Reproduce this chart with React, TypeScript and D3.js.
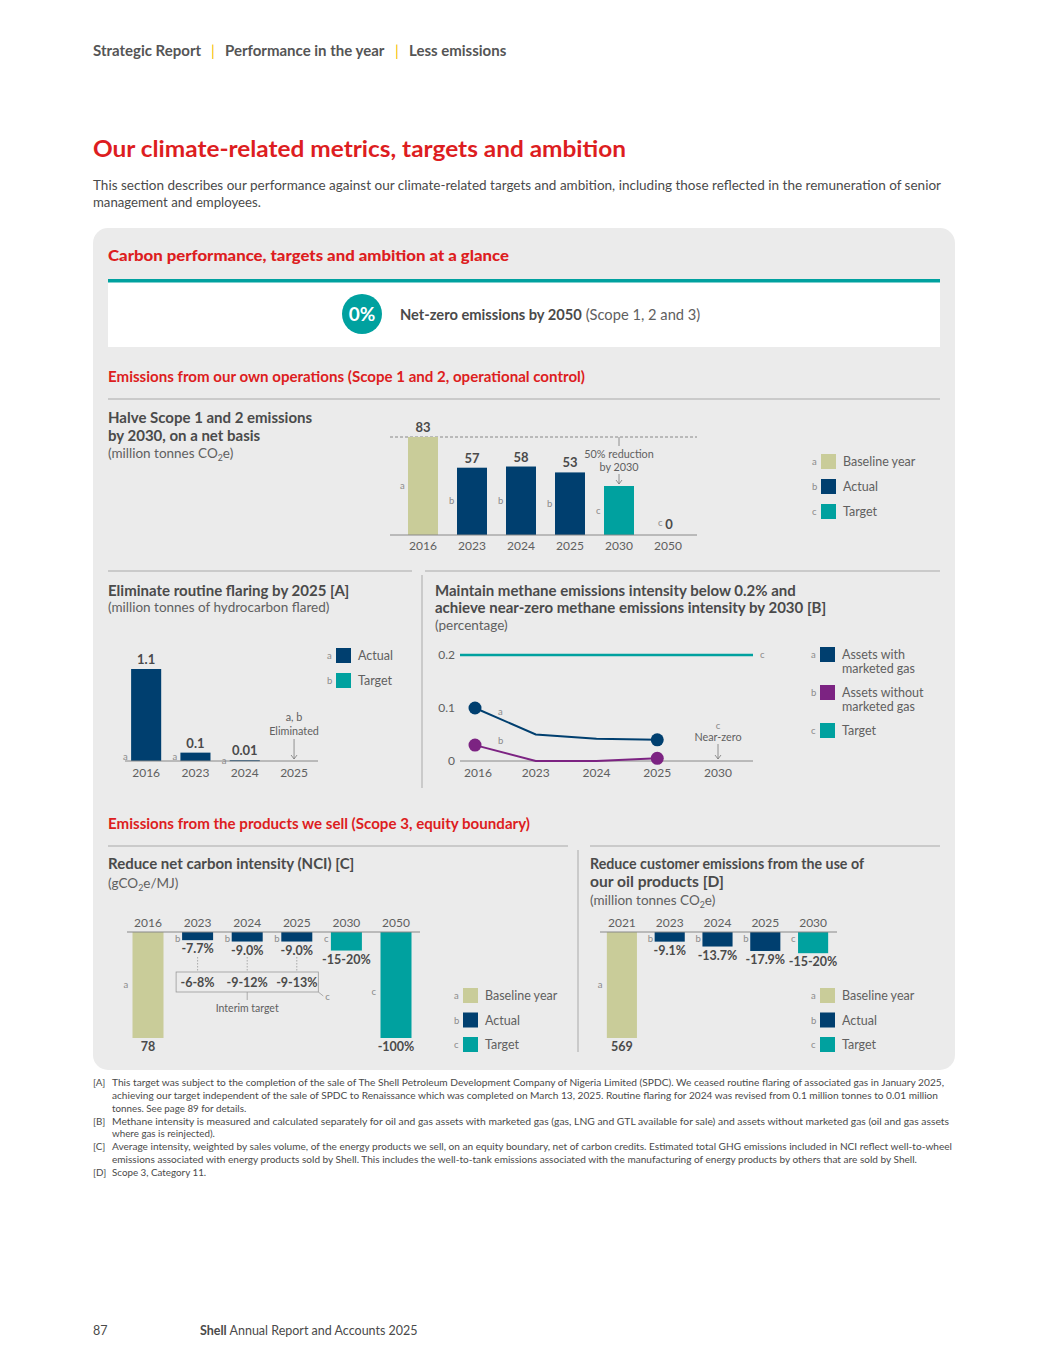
import * as d3 from "d3";
import * as React from "react";

const FONT = "Lato, 'Noto Sans', 'DejaVu Sans', sans-serif";
const RED = "#dd1d21";
const TXT = "#4a4a4a";
const SOFT = "#606060";
const LETTER = "#8a8a8a";
const BASE = "#c9cc99";
const ACTUAL = "#003f6f";
const TARGET = "#00a19f";
const PURPLE = "#7c2382";
const RULE = "#a9a9a9";
const PANEL = "#ebebeb";

const kindColor: Record<string, string> = { a: BASE, b: ACTUAL, c: TARGET };

// Scope 1 and 2
const scope12Years = ["2016", "2023", "2024", "2025", "2030", "2050"];
const scope12Values = [83, 57, 58, 53, 41.5, 0];
const scope12Kinds = ["a", "b", "b", "b", "c", "c"];
const scope12Labels = ["83", "57", "58", "53", "", "0"];

// routine flaring
const flaringYears = ["2016", "2023", "2024", "2025"];
const flaringValues = [1.1, 0.1, 0.01, 0];
const flaringLabels = ["1.1", "0.1", "0.01", ""];

// methane intensity
const methaneYears = ["2016", "2023", "2024", "2025", "2030"];
const methaneMarketed = [0.1, 0.05, 0.042, 0.04];
const methaneNotMarketed = [0.03, 0, 0, 0.005];
const methaneTarget = 0.2;
const methaneTicks = [0, 0.1, 0.2];

// net carbon intensity (bar depth in % of baseline)
const nciYears = ["2016", "2023", "2024", "2025", "2030", "2050"];
const nciChange = [100, 7.7, 9.0, 9.0, 17.5, 100];
const nciKinds = ["a", "b", "b", "b", "c", "c"];
const nciLabels = ["78", "-7.7%", "-9.0%", "-9.0%", "-15-20%", "-100%"];
const nciInterimYears = ["2023", "2024", "2025"];
const nciInterimLabels = ["-6-8%", "-9-12%", "-9-13%"];

// customer emissions
const customerYears = ["2021", "2023", "2024", "2025", "2030"];
const customerChange = [100, 9.1, 13.7, 17.9, 20];
const customerKinds = ["a", "b", "b", "b", "c"];
const customerLabels = ["569", "-9.1%", "-13.7%", "-17.9%", "-15-20%"];

const legendBasic = [
  { letter: "a", color: BASE, label: ["Baseline year"] },
  { letter: "b", color: ACTUAL, label: ["Actual"] },
  { letter: "c", color: TARGET, label: ["Target"] },
];

const footnotes: Array<{ tag: string; lines: string[]; widths: Array<number | null> }> = [
  {
    tag: "[A]",
    lines: [
      "This target was subject to the completion of the sale of The Shell Petroleum Development Company of Nigeria Limited (SPDC). We ceased routine flaring of associated gas in January 2025,",
      "achieving our target independent of the sale of SPDC to Renaissance which was completed on March 13, 2025. Routine flaring for 2024 was revised from 0.1 million tonnes to 0.01 million",
      "tonnes. See page 89 for details.",
    ],
    widths: [832, 826, null],
  },
  {
    tag: "[B]",
    lines: [
      "Methane intensity is measured and calculated separately for oil and gas assets with marketed gas (gas, LNG and GTL available for sale) and assets without marketed gas (oil and gas assets",
      "where gas is reinjected).",
    ],
    widths: [837, null],
  },
  {
    tag: "[C]",
    lines: [
      "Average intensity, weighted by sales volume, of the energy products we sell, on an equity boundary, net of carbon credits. Estimated total GHG emissions included in NCI reflect well-to-wheel",
      "emissions associated with energy products sold by Shell. This includes the well-to-tank emissions associated with the manufacturing of energy products by others that are sold by Shell.",
    ],
    widths: [840, 805],
  },
  { tag: "[D]", lines: ["Scope 3, Category 11."], widths: [null] },
];

function Arrow({ x, y1, y2 }: { x: number; y1: number; y2: number }) {
  return (
    <g stroke="#777" strokeWidth={0.8} fill="none">
      <line x1={x} x2={x} y1={y1} y2={y2} />
      <path d={`M${x - 3},${y2 - 4}L${x},${y2}L${x + 3},${y2 - 4}`} />
    </g>
  );
}

function Legend({ x, items }: { x: number; items: Array<{ letter: string; color: string; label: string[]; y: number }> }) {
  return (
    <g>
      {items.map((it) => (
        <g key={it.letter}>
          <text x={x} y={it.y + 11} fontSize={9.5} fill={LETTER}>{it.letter}</text>
          <rect x={x + 9} y={it.y} width={15} height={15} fill={it.color} />
          {it.label.map((l, i) => (
            <text key={i} x={x + 31} y={it.y + 12 + i * 14} fontSize={12.5} fill={SOFT}>{l}</text>
          ))}
        </g>
      ))}
    </g>
  );
}

function CO2e({ x, y, before, after, size }: { x: number; y: number; before: string; after: string; size: number }) {
  return (
    <text x={x} y={y} fontSize={size} fill={SOFT}>
      {before}CO<tspan fontSize={size * 0.65} dy={3}>2</tspan><tspan dy={-3}>e{after}</tspan>
    </text>
  );
}

function Title({ x, y, width, children }: { x: number; y: number; width?: number; children: React.ReactNode }) {
  const fit = width ? { textLength: width, lengthAdjust: "spacingAndGlyphs" } : {};
  return <text x={x} y={y} fontSize={15} fontWeight={700} fill={TXT} {...fit}>{children}</text>;
}

export default function App() {
  // Scope 1 & 2 chart
  const x1 = d3.scaleBand<string>().domain(scope12Years).range([398.5, 692.5]).paddingInner(0.388).paddingOuter(0.194);
  const y1 = d3.scaleLinear().domain([0, 83]).range([535, 437]);

  // flaring chart
  const x2 = d3.scaleBand<string>().domain(flaringYears).range([121.5, 318.7]).paddingInner(0.39).paddingOuter(0.195);
  const y2 = d3.scaleLinear().domain([0, 1.1]).range([761, 669]);

  // methane chart
  const xm = d3.scalePoint<string>().domain(methaneYears).range([475, 718]);
  const ym = d3.scaleLinear().domain([0, 0.2]).range([761, 655]);
  const lineM = d3.line<number>().x((_, i) => xm(methaneYears[i])!).y((d) => ym(d));

  // scope 3 charts (downward bars from top axis)
  const depth = d3.scaleLinear().domain([0, 100]).range([0, 106]);
  const top3 = 932;
  const xn = d3.scaleBand<string>().domain(nciYears).range([123.2, 420.8]).paddingInner(0.375).paddingOuter(0.1875);
  const xc = d3.scaleBand<string>().domain(customerYears).range([598, 837]).paddingInner(0.37).paddingOuter(0.185);

  const downBars = (years: string[], values: number[], kinds: string[], labels: string[], x: d3.ScaleBand<string>) =>
    years.map((yr, i) => {
      const x0 = x(yr)!;
      const bw = x.bandwidth();
      const h = depth(values[i]);
      const big = values[i] >= 100;
      const letterY = big ? top3 + h / 2 + (i === 0 ? 3 : 10) : top3 + 10;
      return (
        <g key={yr}>
          <rect x={x0} y={top3} width={bw} height={h} fill={kindColor[kinds[i]]} />
          <text x={x0 - (big ? 9 : 7)} y={letterY} fontSize={9.5} fill={LETTER}>{kinds[i]}</text>
          <text x={x0 + bw / 2} y={top3 + h + 13} textAnchor="middle" fontSize={12.5} fontWeight={700} fill={TXT}>{labels[i]}</text>
          <text x={x0 + bw / 2} y={927} textAnchor="middle" fontSize={12} fill={SOFT}>{yr}</text>
        </g>
      );
    });

  const bx0 = xn(nciInterimYears[0])! - 6;
  const bx1 = xn(nciInterimYears[nciInterimYears.length - 1])! + xn.bandwidth() + 6;
  const midInterim = xn(nciInterimYears[1])! + xn.bandwidth() / 2;

  let fy = 1086;
  const footLines: React.ReactNode[] = [];
  footnotes.forEach((f) => {
    f.lines.forEach((l, i) => {
      const w = f.widths[i];
      footLines.push(
        <g key={f.tag + i}>
          {i === 0 && <text x={93} y={fy} fontSize={9.8} fill={TXT}>{f.tag}</text>}
          <text x={112} y={fy} fontSize={9.8} fill={TXT} {...(w ? { textLength: w, lengthAdjust: "spacingAndGlyphs" } : {})}>{l}</text>
        </g>
      );
      fy += 12.85;
    });
  });

  return (
    <svg width={1048} height={1365} fontFamily={FONT} style={{ position: "absolute", left: 0, top: 0, background: "#fff" }}>
      {/* header */}
      <g fontSize={15} fontWeight={700} fill="#555">
        <text x={93} y={56}>Strategic Report</text>
        <text x={211} y={56} fill="#f6bd00" fontWeight={400}>|</text>
        <text x={225} y={56}>Performance in the year</text>
        <text x={395} y={56} fill="#f6bd00" fontWeight={400}>|</text>
        <text x={409} y={56}>Less emissions</text>
      </g>
      <text x={93} y={157} fontSize={23.5} fontWeight={700} fill={RED} textLength={533} lengthAdjust="spacingAndGlyphs">
        Our climate-related metrics, targets and ambition
      </text>
      <text x={93} y={190} fontSize={13.2} fill={TXT} textLength={848} lengthAdjust="spacingAndGlyphs">
        This section describes our performance against our climate-related targets and ambition, including those reflected in the remuneration of senior
      </text>
      <text x={93} y={207} fontSize={13.2} fill={TXT}>management and employees.</text>

      {/* panel */}
      <rect x={93} y={228} width={862} height={842} rx={15} fill={PANEL} />
      <text x={108} y={261} fontSize={15} fontWeight={900} fill={RED} textLength={401} lengthAdjust="spacingAndGlyphs">
        Carbon performance, targets and ambition at a glance
      </text>
      <rect x={108} y={282} width={832} height={65} fill="#fff" />
      <rect x={108} y={279} width={832} height={3.5} fill={TARGET} />
      <circle cx={362} cy={314} r={20} fill={TARGET} />
      <text x={362} y={321} textAnchor="middle" fontSize={19} fontWeight={700} fill="#fff">0%</text>
      <text x={400} y={320} fontSize={14.7} fill={TXT}>
        <tspan fontWeight={700}>Net-zero emissions by 2050</tspan>
        <tspan fill={SOFT}> (Scope 1, 2 and 3)</tspan>
      </text>

      <text x={108} y={382} fontSize={15} fontWeight={700} fill={RED} textLength={477} lengthAdjust="spacingAndGlyphs">
        Emissions from our own operations (Scope 1 and 2, operational control)
      </text>
      <line x1={108} x2={940} y1={399} y2={399} stroke={RULE} />

      {/* scope 1 & 2 */}
      <Title x={108} y={423}>Halve Scope 1 and 2 emissions</Title>
      <Title x={108} y={441}>by 2030, on a net basis</Title>
      <CO2e x={108} y={458} before="(million tonnes " after=")" size={13.5} />
      <line x1={390} x2={697} y1={y1(83)} y2={y1(83)} stroke="#888" strokeDasharray="3,2" />
      {scope12Years.map((yr, i) => {
        const x0 = x1(yr)!;
        const bw = x1.bandwidth();
        const v = scope12Values[i];
        const isZero = v === 0;
        return (
          <g key={yr}>
            <rect x={x0} y={y1(v)} width={bw} height={y1(0) - y1(v)} fill={kindColor[scope12Kinds[i]]} />
            <text x={isZero ? x0 + 5 : x0 - 8} y={isZero ? y1(0) - 9 : (y1(v) + y1(0)) / 2 + 3} fontSize={9.5} fill={LETTER}>
              {scope12Kinds[i]}
            </text>
            {scope12Labels[i] && (
              <text x={x0 + bw / 2 + (isZero ? 1 : 0)} y={y1(v) - (isZero ? 6 : 5)} textAnchor="middle" fontSize={13} fontWeight={700} fill={TXT}>
                {scope12Labels[i]}
              </text>
            )}
            <text x={x0 + bw / 2} y={550} textAnchor="middle" fontSize={12} fill={SOFT}>{yr}</text>
          </g>
        );
      })}
      <line x1={390} x2={697} y1={535} y2={535} stroke="#888" />
      {(() => {
        const cx = x1("2030")! + x1.bandwidth() / 2;
        return (
          <g>
            <line x1={cx} x2={cx} y1={y1(83)} y2={y1(83) + 9} stroke="#777" strokeWidth={0.8} />
            <text x={cx} y={458} textAnchor="middle" fontSize={10.8} fill={SOFT}>50% reduction</text>
            <text x={cx} y={471} textAnchor="middle" fontSize={10.8} fill={SOFT}>by 2030</text>
            <Arrow x={cx} y1={474} y2={y1(41.5) - 2} />
          </g>
        );
      })()}
      <Legend x={812} items={legendBasic.map((d, i) => ({ ...d, y: 454 + i * 25 }))} />

      {/* dividers */}
      <line x1={108} x2={412} y1={571} y2={571} stroke={RULE} />
      <line x1={425} x2={940} y1={571} y2={571} stroke={RULE} />
      <line x1={422} x2={422} y1={575} y2={788} stroke={RULE} />

      {/* flaring */}
      <Title x={108} y={596}>Eliminate routine flaring by 2025 [A]</Title>
      <text x={108} y={612} fontSize={13.5} fill={SOFT}>(million tonnes of hydrocarbon flared)</text>
      {flaringYears.map((yr, i) => {
        const x0 = x2(yr)!;
        const bw = x2.bandwidth();
        const v = flaringValues[i];
        const cx = x0 + bw / 2;
        if (v === 0) {
          return (
            <g key={yr}>
              <text x={cx} y={721} textAnchor="middle" fontSize={10.8} fill={SOFT}>a, b</text>
              <text x={cx} y={735} textAnchor="middle" fontSize={10.8} fill={SOFT}>Eliminated</text>
              <Arrow x={cx} y1={739} y2={759} />
              <text x={cx} y={777} textAnchor="middle" fontSize={12} fill={SOFT}>{yr}</text>
            </g>
          );
        }
        return (
          <g key={yr}>
            <rect x={x0} y={y2(v)} width={bw} height={Math.max(1, y2(0) - y2(v))} fill={ACTUAL} />
            <text x={x0 - 8} y={Math.max((y2(v) + y2(0)) / 2 + 3, 760)} fontSize={9.5} fill={LETTER}>a</text>
            <text x={cx} y={y2(v) - 5} textAnchor="middle" fontSize={13} fontWeight={700} fill={TXT}>{flaringLabels[i]}</text>
            <text x={cx} y={777} textAnchor="middle" fontSize={12} fill={SOFT}>{yr}</text>
          </g>
        );
      })}
      <line x1={125} x2={318} y1={761} y2={761} stroke="#888" />
      <Legend
        x={327}
        items={[
          { letter: "a", color: ACTUAL, label: ["Actual"], y: 648 },
          { letter: "b", color: TARGET, label: ["Target"], y: 673 },
        ]}
      />

      {/* methane */}
      <Title x={435} y={596}>Maintain methane emissions intensity below 0.2% and</Title>
      <Title x={435} y={613}>achieve near-zero methane emissions intensity by 2030 [B]</Title>
      <text x={435} y={630} fontSize={13.5} fill={SOFT}>(percentage)</text>
      {methaneTicks.map((t) => (
        <text key={t} x={455} y={ym(t) + 4} textAnchor="end" fontSize={12} fill={SOFT}>{d3.format("")(t)}</text>
      ))}
      <line x1={460} x2={753} y1={ym(0)} y2={ym(0)} stroke="#888" />
      <line x1={460} x2={753} y1={ym(methaneTarget)} y2={ym(methaneTarget)} stroke={TARGET} strokeWidth={2.5} />
      <text x={760} y={ym(methaneTarget) + 3} fontSize={9.5} fill={LETTER}>c</text>
      <path d={lineM(methaneMarketed)!} fill="none" stroke={ACTUAL} strokeWidth={2} />
      <path d={lineM(methaneNotMarketed)!} fill="none" stroke={PURPLE} strokeWidth={2} />
      {[0, 3].map((i) => (
        <g key={i}>
          <circle cx={xm(methaneYears[i])!} cy={ym(methaneMarketed[i])} r={6.5} fill={ACTUAL} />
          <circle cx={xm(methaneYears[i])!} cy={ym(methaneNotMarketed[i])} r={6.5} fill={PURPLE} />
        </g>
      ))}
      <text x={498} y={715} fontSize={9.5} fill={LETTER}>a</text>
      <text x={498} y={744} fontSize={9.5} fill={LETTER}>b</text>
      {(() => {
        const cx = xm("2030")!;
        return (
          <g>
            <text x={cx} y={729} textAnchor="middle" fontSize={9.5} fill={LETTER}>c</text>
            <text x={cx} y={741} textAnchor="middle" fontSize={10.8} fill={SOFT}>Near-zero</text>
            <Arrow x={cx} y1={744} y2={759} />
          </g>
        );
      })()}
      {methaneYears.map((yr) => (
        <text key={yr} x={xm(yr)! + (yr === "2016" ? 3 : 0)} y={777} textAnchor="middle" fontSize={12} fill={SOFT}>{yr}</text>
      ))}
      <Legend
        x={811}
        items={[
          { letter: "a", color: ACTUAL, label: ["Assets with", "marketed gas"], y: 647 },
          { letter: "b", color: PURPLE, label: ["Assets without", "marketed gas"], y: 685 },
          { letter: "c", color: TARGET, label: ["Target"], y: 723 },
        ]}
      />

      {/* scope 3 */}
      <text x={108} y={829} fontSize={15} fontWeight={700} fill={RED} textLength={422} lengthAdjust="spacingAndGlyphs">
        Emissions from the products we sell (Scope 3, equity boundary)
      </text>
      <line x1={108} x2={568} y1={846} y2={846} stroke={RULE} />
      <line x1={590} x2={940} y1={846} y2={846} stroke={RULE} />
      <line x1={578} x2={578} y1={850} y2={1052} stroke={RULE} />

      {/* NCI */}
      <Title x={108} y={869}>Reduce net carbon intensity (NCI) [C]</Title>
      <CO2e x={108} y={888} before="(g" after="/MJ)" size={13.5} />
      {downBars(nciYears, nciChange, nciKinds, nciLabels, xn)}
      <line x1={127} x2={420} y1={top3} y2={top3} stroke="#888" />
      <rect x={bx0} y={972} width={bx1 - bx0} height={20} fill="none" stroke="#999" strokeWidth={0.8} />
      {nciInterimYears.map((yr, i) => {
        const cx = xn(yr)! + xn.bandwidth() / 2;
        return (
          <g key={yr}>
            <line x1={cx} x2={cx} y1={957} y2={972} stroke="#999" strokeWidth={0.8} strokeDasharray="1.5,1.5" />
            <text x={cx} y={987} textAnchor="middle" fontSize={12.5} fontWeight={700} fill={TXT}>{nciInterimLabels[i]}</text>
          </g>
        );
      })}
      <line x1={midInterim} x2={midInterim} y1={992} y2={1000} stroke="#999" strokeWidth={0.8} />
      <text x={midInterim} y={1012} textAnchor="middle" fontSize={10.5} fill={SOFT}>Interim target</text>
      <line x1={bx1} x2={bx1 + 5} y1={992} y2={996} stroke="#999" strokeWidth={0.8} />
      <text x={bx1 + 7} y={1000} fontSize={9.5} fill={LETTER}>c</text>
      <Legend x={454} items={legendBasic.map((d, i) => ({ ...d, y: 988 + i * 24.5 }))} />

      {/* customer emissions */}
      <Title x={590} y={869} width={274}>Reduce customer emissions from the use of</Title>
      <Title x={590} y={887} width={134}>our oil products [D]</Title>
      <CO2e x={590} y={905} before="(million tonnes " after=")" size={13.5} />
      {downBars(customerYears, customerChange, customerKinds, customerLabels, xc)}
      <line x1={600} x2={837} y1={top3} y2={top3} stroke="#888" />
      <Legend x={811} items={legendBasic.map((d, i) => ({ ...d, y: 988 + i * 24.5 }))} />

      {/* footnotes */}
      {footLines}

      {/* footer */}
      <text x={93} y={1335} fontSize={12.5} fill={TXT}>87</text>
      <text x={200} y={1335} fontSize={12.5} fill={TXT}>
        <tspan fontWeight={700}>Shell</tspan>
        <tspan> Annual Report and Accounts 2025</tspan>
      </text>
    </svg>
  );
}
